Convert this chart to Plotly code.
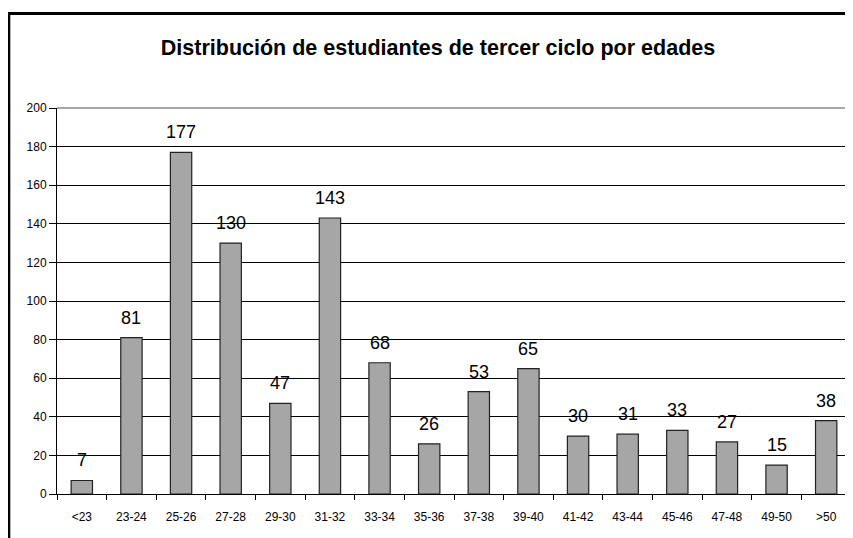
import plotly.graph_objects as go

categories = ["<23", "23-24", "25-26", "27-28", "29-30", "31-32", "33-34", "35-36",
              "37-38", "39-40", "41-42", "43-44", "45-46", "47-48", "49-50", ">50"]
values = [7, 81, 177, 130, 47, 143, 68, 26, 53, 65, 30, 31, 33, 27, 15, 38]
y_ticks = [0, 20, 40, 60, 80, 100, 120, 140, 160, 180, 200]
title_text = "Distribución de estudiantes de tercer ciclo por edades"

# page body has an 8px margin; figure is laid out in its own coordinates
W, H = 845, 530
l, r, t, b = 49, 2, 100, 44
pw, ph = W - l - r, H - t - b

def px(x):
    return (x - l) / pw

def py(y):
    return (H - b - y) / ph

fig = go.Figure()
fig.add_trace(go.Bar(
    x=categories, y=values,
    marker=dict(color="#a6a6a6", line=dict(color="#222222", width=1.2)),
    cliponaxis=False,
))

for c, v in zip(categories, values):
    fig.add_annotation(x=c, y=v, text=str(v), showarrow=False,
                       xanchor="center", yanchor="bottom", yshift=8,
                       font=dict(family="Liberation Sans, Arial", size=18, color="black"))

fig.update_layout(
    width=W, height=H,
    margin=dict(l=l, r=r, t=t, b=b),
    paper_bgcolor="white", plot_bgcolor="white",
    bargap=0.57,
    showlegend=False,
    title=dict(text="<b>" + title_text + "</b>", x=430 / W, xanchor="center",
               y=(H - 39) / H, yanchor="middle",
               font=dict(family="Liberation Sans, Arial", size=21.5, color="black")),
    xaxis=dict(type="category", tickson="boundaries", ticks="outside", ticklen=5,
               tickcolor="black", showline=True, linecolor="black", linewidth=1,
               showgrid=False, ticklabelstandoff=12,
               tickfont=dict(family="Liberation Sans, Arial", size=12, color="black")),
    yaxis=dict(range=[0, 200], tickvals=y_ticks, ticks="outside", ticklen=7,
               tickcolor="black", showline=True, linecolor="black", linewidth=1,
               showgrid=True, gridcolor="black", gridwidth=1, zeroline=False,
               tickfont=dict(family="Liberation Sans, Arial", size=12, color="black")),
    shapes=[
        dict(type="line", xref="paper", yref="paper", x0=0, x1=1, y0=1, y1=1,
             line=dict(color="#888888", width=1.5)),
        dict(type="line", xref="paper", yref="paper", x0=1, x1=1, y0=0, y1=1,
             line=dict(color="#888888", width=1.5)),
        dict(type="line", xref="paper", yref="paper", x0=px(0), x1=px(W + 5), y0=py(5.5), y1=py(5.5),
             line=dict(color="black", width=3)),
        dict(type="line", xref="paper", yref="paper", x0=px(0.8), x1=px(0.8), y0=py(4), y1=py(H + 5),
             line=dict(color="black", width=3)),
    ],
)

fig.write_html("out.html")
